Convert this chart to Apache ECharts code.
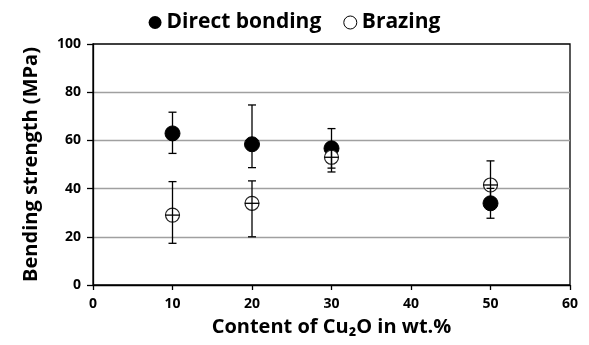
<!DOCTYPE html>
<html>
<head>
<meta charset="utf-8">
<script src="https://cdn.jsdelivr.net/npm/echarts@6/dist/echarts.min.js"></script>
<style>html,body{margin:0;padding:0;background:#fff;}#c{width:589px;height:345px;}</style>
</head>
<body>
<div id="c"></div>
<script>
const contents = [10, 20, 30, 50];
const directMean = [62.9, 58.4, 56.7, 33.9];
const directErrUp = [8.8, 16.3, 8.2, 6.2];
const directErrDown = [8.3, 9.7, 8.2, 6.2];
const brazingMean = [29.0, 33.9, 53.0, 41.5];
const brazingErrUp = [13.9, 9.3, 6.1, 10.0];
const brazingErrDown = [11.7, 13.9, 6.1, 10.0];
const xErr = [0.9, 0.9, 0.9, 0.9];
const xTicks = [0, 10, 20, 30, 40, 50, 60];
const yTicks = [0, 20, 40, 60, 80, 100];

const FONT = '"Open Sans", sans-serif';
const chart = echarts.init(document.getElementById('c'), null, {renderer: 'canvas'});

function errData(mean, up, down) {
  return contents.map((x, i) => [x, mean[i] - down[i], mean[i] + up[i], xErr[i], mean[i]]);
}

function renderErr(params, api) {
  const x = api.value(0);
  const lo = api.coord([x, api.value(1)]);
  const hi = api.coord([x, api.value(2)]);
  const c = api.coord([x, api.value(4)]);
  const l = api.coord([x - api.value(3), api.value(4)]);
  const r = api.coord([x + api.value(3), api.value(4)]);
  const cap = 4;
  const st = {stroke: '#000', lineWidth: 1.3};
  return {
    type: 'group',
    children: [
      {type: 'line', shape: {x1: lo[0], y1: lo[1], x2: hi[0], y2: hi[1]}, style: st},
      {type: 'line', shape: {x1: lo[0] - cap, y1: lo[1], x2: lo[0] + cap, y2: lo[1]}, style: st},
      {type: 'line', shape: {x1: hi[0] - cap, y1: hi[1], x2: hi[0] + cap, y2: hi[1]}, style: st},
      {type: 'line', shape: {x1: l[0], y1: c[1], x2: r[0], y2: c[1]}, style: st}
    ]
  };
}

chart.setOption({
  animation: false,
  backgroundColor: '#fff',
  textStyle: {fontFamily: FONT},
  legend: {
    top: 7,
    left: 'center',
    itemGap: 22,
    itemWidth: 13,
    itemHeight: 13,
    textStyle: {fontFamily: FONT, fontWeight: 'bold', fontSize: 21, color: '#000'},
    data: [
      {name: 'Direct bonding', icon: 'circle', itemStyle: {color: '#000', borderColor: '#000'}},
      {name: 'Brazing', icon: 'circle', itemStyle: {color: '#fff', borderColor: '#000', borderWidth: 1}}
    ]
  },
  grid: {left: 93, right: 19, top: 44, bottom: 60, show: true, borderColor: '#000', borderWidth: 1.3},
  xAxis: {
    type: 'value', min: 0, max: 60, interval: 10,
    name: 'Content of Cu\u2082O in wt.%', nameLocation: 'middle', nameGap: 32,
    nameTextStyle: {fontFamily: FONT, fontWeight: 'bold', fontSize: 20, color: '#000'},
    axisLine: {onZero: false, lineStyle: {color: '#000', width: 1.3}},
    axisTick: {show: true, length: 5, lineStyle: {color: '#000', width: 1.3}},
    axisLabel: {fontFamily: FONT, fontWeight: 'bold', fontSize: 14, color: '#000', margin: 12,
      formatter: v => xTicks.includes(v) ? String(v) : ''},
    splitLine: {show: false}
  },
  yAxis: {
    type: 'value', min: 0, max: 100, interval: 20,
    name: 'Bending strength (MPa)', nameLocation: 'middle', nameGap: 52, nameRotate: 90,
    nameTextStyle: {fontFamily: FONT, fontWeight: 'bold', fontSize: 20, color: '#000'},
    axisLine: {show: true, lineStyle: {color: '#000', width: 1.3}},
    axisTick: {show: true, length: 6, lineStyle: {color: '#000', width: 1.3}},
    axisLabel: {fontFamily: FONT, fontWeight: 'bold', fontSize: 14, color: '#000', margin: 12,
      formatter: v => yTicks.includes(v) ? String(v) : ''},
    splitLine: {show: true, showMinLine: false, showMaxLine: false, lineStyle: {color: '#a0a0a0', width: 1.3}}
  },
  series: [
    {
      name: 'Direct bonding', type: 'scatter', symbol: 'circle', symbolSize: 15, z: 2,
      itemStyle: {color: '#000', borderColor: '#000', opacity: 1},
      data: contents.map((x, i) => [x, directMean[i]])
    },
    {
      name: 'Brazing', type: 'scatter', symbol: 'circle', symbolSize: 14, z: 3,
      itemStyle: {color: '#fff', borderColor: '#222', borderWidth: 1.2, opacity: 1},
      data: contents.map((x, i) => [x, brazingMean[i]])
    },
    {
      name: 'Direct err', type: 'custom', renderItem: renderErr, z: 4, silent: true,
      encode: {x: 0, y: [1, 2]},
      data: errData(directMean, directErrUp, directErrDown)
    },
    {
      name: 'Brazing err', type: 'custom', renderItem: renderErr, z: 5, silent: true,
      encode: {x: 0, y: [1, 2]},
      data: errData(brazingMean, brazingErrUp, brazingErrDown)
    }
  ]
});
</script>
</body>
</html>
